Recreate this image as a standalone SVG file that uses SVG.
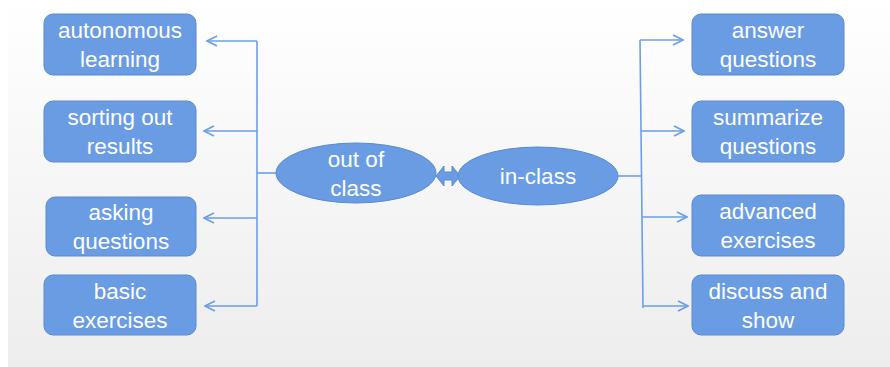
<svg xmlns="http://www.w3.org/2000/svg" width="890" height="367" viewBox="0 0 890 367">
<defs>
<linearGradient id="bg" x1="0" y1="0" x2="0" y2="1">
<stop offset="0" stop-color="#ffffff"/>
<stop offset="1" stop-color="#ededed"/>
</linearGradient>
<marker id="ah" markerWidth="12" markerHeight="12" refX="11" refY="6" orient="auto" markerUnits="userSpaceOnUse">
<path d="M1,1 L11,6 L1,11" fill="none" stroke="#6d9ee6" stroke-width="1.6"/>
</marker>
</defs>
<style>
.box{fill:#6a9ce4;stroke:#5b8ad0;stroke-width:1}
.t{fill:#ffffff;font-family:"Liberation Sans",Arial,sans-serif;font-size:22.5px;text-anchor:middle}
.ln{fill:none;stroke:#6d9ee6;stroke-width:1.6}
.ar{fill:none;stroke:#6d9ee6;stroke-width:1.6;marker-end:url(#ah)}
</style>
<rect x="0" y="0" width="890" height="367" fill="#ffffff"/>
<rect x="8" y="0" width="882" height="367" fill="url(#bg)"/>
<g id="connectors">
<path class="ln" d="M257,41 V306"/>
<path class="ln" d="M257,173 H277"/>
<path class="ar" d="M257,41 H207"/>
<path class="ar" d="M257,131 H204"/>
<path class="ar" d="M257,218 H204"/>
<path class="ar" d="M257,306 H205"/>
<path class="ln" d="M640,40 L643,308"/>
<path class="ln" d="M618,176 H641"/>
<path class="ar" d="M640,40 H683"/>
<path class="ar" d="M641,131 H684"/>
<path class="ar" d="M642,217 H687"/>
<path class="ar" d="M643,306 H688"/>
<path d="M436,176 L444,166 L444,172 L452,172 L452,166 L460,176 L452,186 L452,180 L444,180 L444,186 Z" fill="#6a9ce4" stroke="#5b8ad0" stroke-width="1"/>
</g>
<g id="out-of-class">
<ellipse class="box" cx="356" cy="173" rx="80" ry="30"/>
<text class="t" x="356" y="167">out of</text>
<text class="t" x="356" y="196">class</text>
</g>
<g id="in-class">
<ellipse class="box" cx="538" cy="176" rx="80" ry="29"/>
<text class="t" x="538" y="184">in-class</text>
</g>
<g id="autonomous-learning">
<rect class="box" x="44" y="14" width="152" height="61" rx="9"/>
<text class="t" x="120" y="38">autonomous</text>
<text class="t" x="120" y="67">learning</text>
</g>
<g id="sorting-out-results">
<rect class="box" x="44" y="101" width="152" height="61" rx="9"/>
<text class="t" x="120" y="125">sorting out</text>
<text class="t" x="120" y="154">results</text>
</g>
<g id="asking-questions">
<rect class="box" x="46" y="197" width="150" height="59" rx="9"/>
<text class="t" x="121" y="220">asking</text>
<text class="t" x="121" y="249">questions</text>
</g>
<g id="basic-exercises">
<rect class="box" x="44" y="275" width="152" height="60" rx="9"/>
<text class="t" x="120" y="299">basic</text>
<text class="t" x="120" y="328">exercises</text>
</g>
<g id="answer-questions">
<rect class="box" x="692" y="14" width="152" height="61" rx="9"/>
<text class="t" x="768" y="38">answer</text>
<text class="t" x="768" y="67">questions</text>
</g>
<g id="summarize-questions">
<rect class="box" x="692" y="101" width="152" height="61" rx="9"/>
<text class="t" x="768" y="125">summarize</text>
<text class="t" x="768" y="154">questions</text>
</g>
<g id="advanced-exercises">
<rect class="box" x="692" y="195" width="152" height="61" rx="9"/>
<text class="t" x="768" y="219">advanced</text>
<text class="t" x="768" y="248">exercises</text>
</g>
<g id="discuss-and-show">
<rect class="box" x="692" y="275" width="152" height="60" rx="9"/>
<text class="t" x="768" y="299">discuss and</text>
<text class="t" x="768" y="328">show</text>
</g>
</svg>
